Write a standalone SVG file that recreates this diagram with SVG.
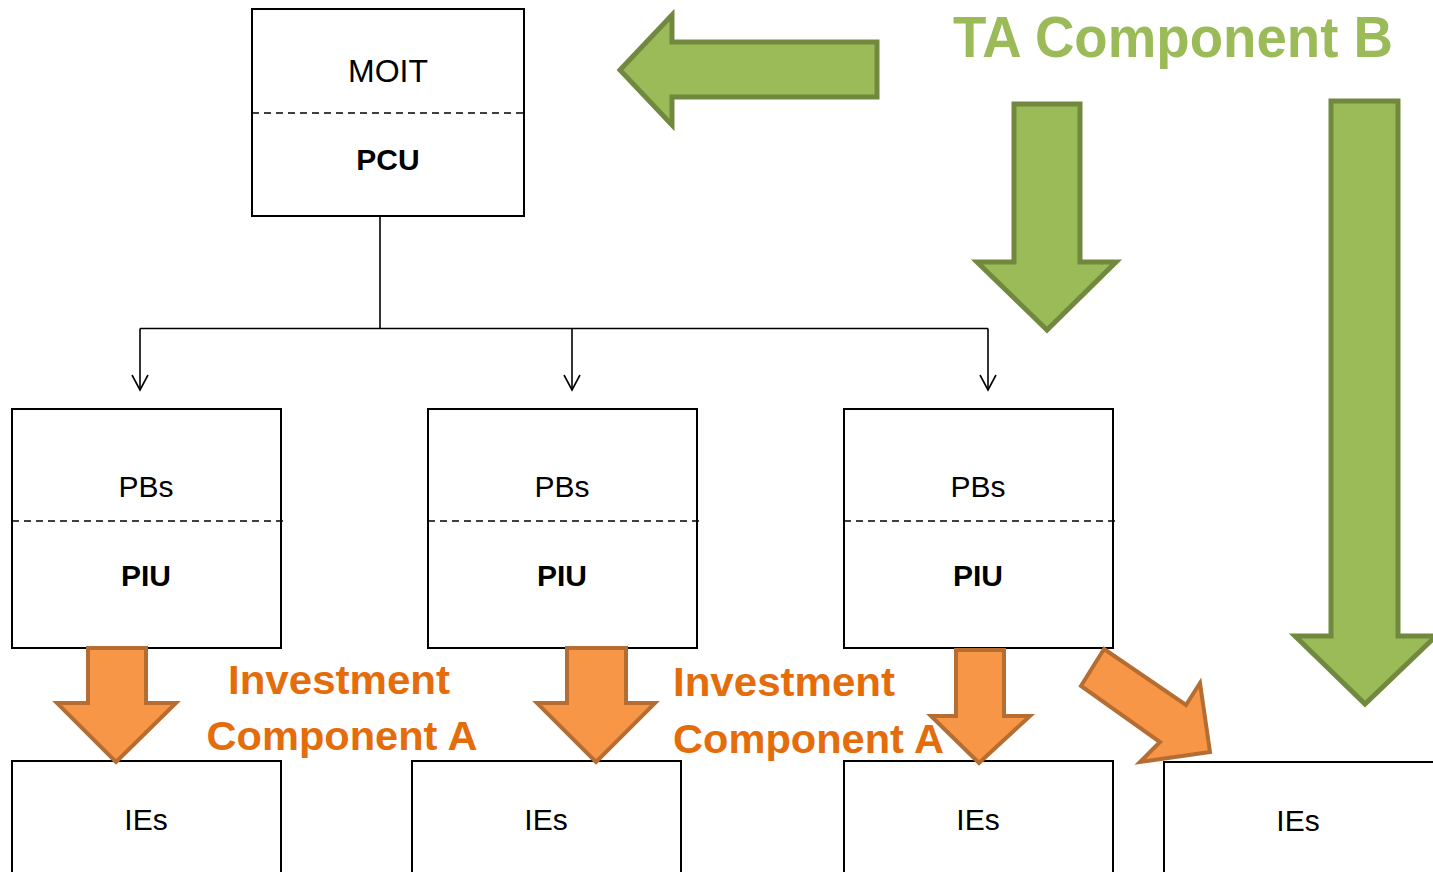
<svg xmlns="http://www.w3.org/2000/svg" width="1433" height="872" viewBox="0 0 1433 872">
<style>
.box{fill:#fff;stroke:#000;stroke-width:2}
.dash{stroke:#000;stroke-width:1.6;stroke-dasharray:7 5;fill:none}
.t{font-family:"Liberation Sans",Arial,sans-serif;font-size:30px;fill:#000;text-anchor:middle}
.b{font-weight:bold}
.green{fill:#9BBB59;stroke:#71893F;stroke-width:5;stroke-linejoin:miter}
.orange{fill:#F79646;stroke:#B66D31;stroke-width:4;stroke-linejoin:miter}
.conn{stroke:#000;stroke-width:1.6;fill:none}
.lbl{font-family:"Liberation Sans",Arial,sans-serif;font-weight:bold;fill:#E46C0A;font-size:40px}
</style>
<defs>
<marker id="open" markerWidth="14" markerHeight="16" refX="7" refY="15" orient="auto" markerUnits="userSpaceOnUse" viewBox="0 0 14 16">
<path d="M0,0 L7,15 L14,0" fill="none" stroke="#000" stroke-width="1.6"/>
</marker>
</defs>
<g id="connectors">
<line class="conn" x1="380" y1="216" x2="380" y2="328.5"/>
<line class="conn" x1="140" y1="328.5" x2="988" y2="328.5"/>
<path class="conn" d="M140,328.5 V390" />
<path class="conn" d="M572,328.5 V390" />
<path class="conn" d="M988,328.5 V390" />
<path class="conn" d="M132,375 L140,390 L148,375"/>
<path class="conn" d="M564,375 L572,390 L580,375"/>
<path class="conn" d="M980,375 L988,390 L996,375"/>
</g>
<g id="moit">
<rect class="box" x="252" y="9" width="272" height="207"/>
<line class="dash" x1="252" y1="113" x2="524" y2="113"/>
<text class="t" x="388" y="82" style="font-size:32px">MOIT</text>
<text class="t b" x="388" y="170">PCU</text>
</g>
<g id="piu1">
<rect class="box" x="12" y="409" width="269" height="239"/>
<line class="dash" x1="12" y1="521" x2="284" y2="521"/>
<text class="t" x="146" y="497">PBs</text>
<text class="t b" x="146" y="586">PIU</text>
</g>
<g id="piu2">
<rect class="box" x="428" y="409" width="269" height="239"/>
<line class="dash" x1="428" y1="521" x2="700" y2="521"/>
<text class="t" x="562" y="497">PBs</text>
<text class="t b" x="562" y="586">PIU</text>
</g>
<g id="piu3">
<rect class="box" x="844" y="409" width="269" height="239"/>
<line class="dash" x1="844" y1="521" x2="1116" y2="521"/>
<text class="t" x="978" y="497">PBs</text>
<text class="t b" x="978" y="586">PIU</text>
</g>
<g id="ies1">
<rect class="box" x="12" y="761" width="269" height="130"/>
<text class="t" x="146" y="830">IEs</text>
</g>
<g id="ies2">
<rect class="box" x="412" y="761" width="269" height="130"/>
<text class="t" x="546" y="830">IEs</text>
</g>
<g id="ies3">
<rect class="box" x="844" y="761" width="269" height="130"/>
<text class="t" x="978" y="830">IEs</text>
</g>
<g id="ies4">
<rect class="box" x="1164" y="762" width="275" height="130"/>
<text class="t" x="1298" y="831">IEs</text>
</g>
<g id="ta-component-b">
<text x="953" y="57" textLength="440" lengthAdjust="spacingAndGlyphs" style="font-family:'Liberation Sans',Arial,sans-serif;font-weight:bold;font-size:58px;fill:#9BBB59">TA Component B</text>
<polygon class="green" points="620,70 672,15 672,42 877,42 877,97 672,97 672,125"/>
<polygon class="green" points="1014,104 1080,104 1080,262 1116,262 1047,330 977,262 1014,262"/>
<polygon class="green" points="1331,101 1398,101 1398,636 1436,636 1365,704 1295,636 1331,636"/>
</g>
<g id="investment-a">
<polygon class="orange" points="88,648 146,648 146,703 176,703 116,762 57,703 88,703"/>
<polygon class="orange" points="567,648 626,648 626,703 655,703 596,762 537,703 567,703"/>
<polygon class="orange" points="956,650 1004,650 1004,716 1030,716 979,763 931,716 956,716"/>
<polygon class="orange" points="1104,649 1186,705 1200,683 1210,752 1140,762 1160,742 1081,686"/>
<text class="lbl" x="339" y="694" text-anchor="middle" textLength="222" lengthAdjust="spacingAndGlyphs">Investment</text>
<text class="lbl" x="342" y="750" text-anchor="middle" textLength="271" lengthAdjust="spacingAndGlyphs">Component A</text>
<text class="lbl" x="673" y="696" textLength="222" lengthAdjust="spacingAndGlyphs">Investment</text>
<text class="lbl" x="673" y="753" textLength="271" lengthAdjust="spacingAndGlyphs">Component A</text>
</g>
</svg>
